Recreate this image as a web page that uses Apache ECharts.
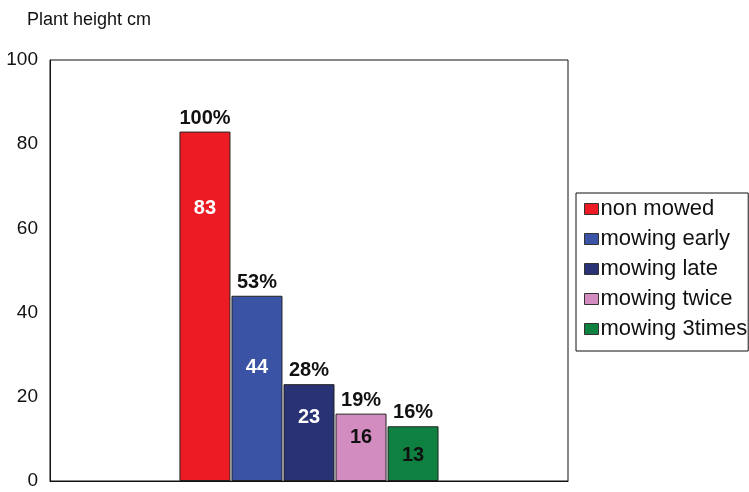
<!DOCTYPE html>
<html><head><meta charset="utf-8">
<script src="https://cdn.jsdelivr.net/npm/echarts@6/dist/echarts.min.js"></script>
<style>html,body{margin:0;padding:0;background:#fff}#c{width:749px;height:492px}</style>
</head><body><div id="c"></div>
<script>
const categories = [''];
const seriesNames = ['non mowed','mowing early','mowing late','mowing twice','mowing 3times'];
const values = [83, 44, 23, 16, 13];
const percents = ['100%','53%','28%','19%','16%'];
const yTicks = [0, 20, 40, 60, 80, 100];

const colors = ['#ED1C24','#3A53A4','#283275','#D38CBF','#0E8040'];
const innerLabelColors = ['#fff','#fff','#fff','#111','#111'];
const innerLabelTop = [77, 72, 33, 24, 29];
const FONT = 'Liberation Sans';

const series = [];
seriesNames.forEach((name, i) => {
  series.push({
    name: name, type: 'bar', barWidth: 51, barGap: '2%',
    itemStyle: {color: colors[i], borderColor: '#222', borderWidth: 1},
    label: {show: true, position: ['50%', innerLabelTop[i]], align: 'center', verticalAlign: 'middle',
      color: innerLabelColors[i], fontSize: 20, fontWeight: 'bold', fontFamily: FONT},
    data: [values[i]],
    markPoint: {
      symbol: 'rect', symbolSize: 1, itemStyle: {color: 'rgba(0,0,0,0)'},
      label: {show: true, position: 'top', distance: 3, color: '#111', fontSize: 20, fontWeight: 'bold', fontFamily: FONT,
        formatter: percents[i]},
      data: [{coord: [0, values[i]], value: percents[i]}]
    }
  });
});

const chart = echarts.init(document.getElementById('c'));
chart.setOption({
  animation: false,
  backgroundColor: '#fff',
  graphic: [{type: 'text', left: 27, top: 11, style: {text: 'Plant height cm', fontSize: 18, fontFamily: FONT, fill: '#111'}}],
  grid: {left: 50, top: 60, width: 518, height: 421, show: true, borderColor: '#111', borderWidth: 1, containLabel: false},
  legend: {
    orient: 'vertical', left: 576, top: 193,
    padding: [5, 1, 11, 8], itemGap: 8, itemWidth: 14, itemHeight: 11,
    borderColor: '#111', borderWidth: 1,
    textStyle: {fontSize: 22, fontFamily: FONT, color: '#111', lineHeight: 22, padding: [0, 0, 0, -3]},
    itemStyle: {borderColor: '#333', borderWidth: 1},
    data: seriesNames.map(n => ({name: n, icon: 'rect'}))
  },
  xAxis: {type: 'category', data: categories, axisLine: {show: true, lineStyle: {color: '#111'}}, axisTick: {show: false}, axisLabel: {show: false}},
  yAxis: {type: 'value', min: yTicks[0], max: yTicks[yTicks.length - 1], interval: 20,
    axisLine: {show: true, lineStyle: {color: '#111'}}, axisTick: {show: false}, splitLine: {show: false},
    axisLabel: {color: '#111', fontSize: 19, fontFamily: FONT, margin: 12}},
  series: series
});
</script></body></html>
